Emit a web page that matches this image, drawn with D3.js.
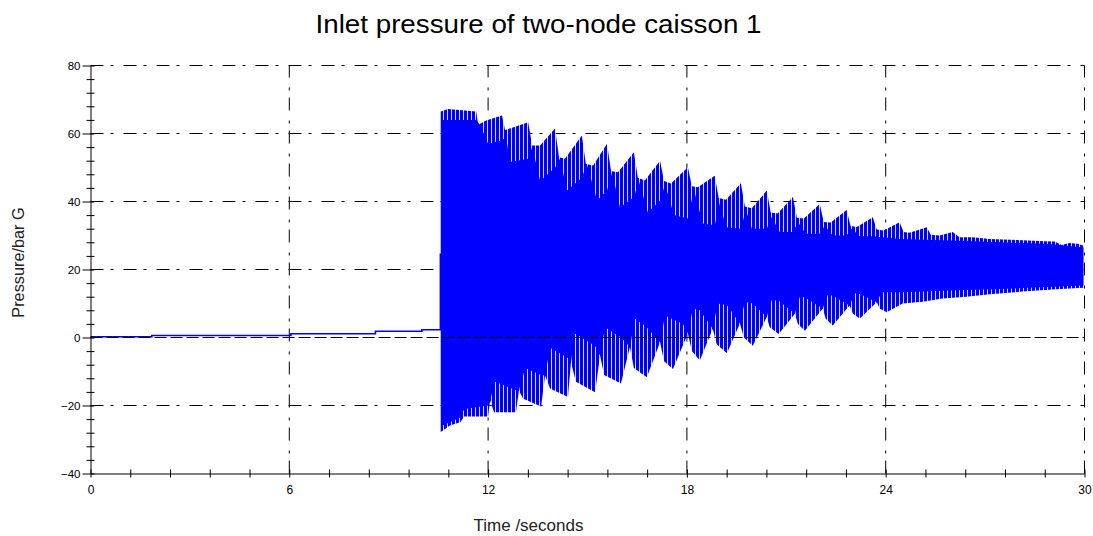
<!DOCTYPE html>
<html>
<head>
<meta charset="utf-8">
<script src="https://cdn.jsdelivr.net/npm/d3@7"></script>
<style>
  html, body { margin: 0; padding: 0; background: #fff; }
  svg { display: block; font-family: "Liberation Sans", Arial, sans-serif; }
</style>
</head>
<body>
<svg id="chart" width="1093" height="536"></svg>
<script>
// ---- labels and ticks ----
const chartTitle = "Inlet pressure of two-node caisson 1";
const xTitle = "Time /seconds";
const yTitle = "Pressure/bar G";
const xMajorTicks = [0, 6, 12, 18, 24, 30];
const yMajorTicks = [-40, -20, 0, 20, 40, 60, 80];
const xMinorTicks = [1.2, 2.4, 3.6, 4.8, 7.2, 8.4, 9.6, 10.8, 13.2, 14.4, 15.6, 16.8,
                     19.2, 20.4, 21.6, 22.8, 25.2, 26.4, 27.6, 28.8];
const yMinorTicks = [-36, -32, -28, -24, -16, -12, -8, -4, 4, 8, 12, 16,
                     24, 28, 32, 36, 44, 48, 52, 56, 64, 68, 72, 76];

// ---- pressure before the surge (time s, bar G) ----
const preSurge = [[0, 0.2], [1.85, 0.6], [6.05, 1.1], [8.6, 1.85], [10.0, 2.3], [10.56, 24.7]];

// ---- oscillation envelope after the surge (time s, bar G) ----
// peak tips reached by the individual cycles
const upperTips = [[10.57,66.5],[10.79,67.2],[11.64,66.5],[11.70,62.6],[11.94,63.8],[12.42,65.3],[12.51,61],[12.66,61.5],
  [13.21,63.3],[13.33,56.5],[13.57,56.5],[14.02,61.5],[14.14,53],[14.32,52.6],[14.83,59.4],[14.95,51],[15.17,50.6],
  [15.59,57],[15.71,49],[15.92,48.6],[16.40,54.5],[16.52,47],[16.73,46.2],[17.19,52],[17.31,46],[17.52,45.3],
  [18.03,50.1],[18.15,44.5],[18.33,44.2],[18.84,47.6],[18.96,41],[19.18,40.5],[19.63,45.4],[19.75,38.5],[19.96,38],
  [20.41,43.2],[20.53,36.8],[20.74,36.5],[21.20,41.3],[21.32,35.2],[21.53,35],[22.01,39.3],[22.13,34],[22.34,33.8],
  [22.82,37.5],[22.94,32.8],[23.13,32.5],[23.61,35.4],[23.73,31.8],[23.94,31.5],[24.42,33.9],[24.54,31],[24.72,30.8],
  [25.24,32.4],[25.36,30.2],[25.63,30],[26.02,31],[26.23,29.5],[26.62,29.5],[27.14,29],[28.13,28.6],[28.79,28.3],
  [29.10,28.2],[29.31,27.2],[29.55,27.8],[29.79,27.6],[29.97,27]];
const lowerTips = [[10.57,-27.8],[10.85,-25.9],[11.16,-24.9],[11.28,-23.2],[12.00,-23.2],[12.06,-18.5],[12.18,-22],
  [12.84,-22],[12.93,-15.6],[13.06,-18],[13.60,-20.3],[13.72,-11.2],[13.87,-15],[14.41,-17.5],[14.50,-7.3],[14.65,-13],
  [15.23,-16.1],[15.38,-5.3],[15.50,-11],[16.01,-13.5],[16.28,-2.8],[16.40,-9],[16.79,-11.7],[17.19,-1.4],[17.31,-7],
  [17.58,-9.3],[18.03,1.2],[18.15,-4],[18.39,-6.8],[18.78,2.6],[18.90,-2],[19.21,-4.6],[19.60,4.1],[19.72,0],
  [19.99,-2.4],[20.41,6],[20.50,3],[20.77,1],[21.26,7],[21.35,4],[21.56,2],[22.10,8.5],[22.19,5.5],[22.40,3.5],
  [22.91,9.4],[23.01,7],[23.22,5.6],[23.73,10.4],[23.82,8.5],[24.03,7.4],[24.51,10],[25.12,10.5],[25.72,11.5],
  [26.44,12],[27.14,12.7],[28.13,13.5],[29.16,14.2],[29.97,14.6]];
// band that every cycle crosses (drawn solid)
const upperCore = [[10.60,64],[11.64,64],[11.76,62.5],[12.00,57],[12.42,58],[12.54,59],[12.66,51.6],[13.21,52.6],
  [13.33,56],[13.57,46],[14.02,50],[14.17,52.6],[14.38,43.2],[14.83,47],[14.98,51],[15.29,40.3],[15.59,43.2],
  [15.74,48.5],[15.98,38.2],[16.40,41.3],[16.55,46],[16.82,36.8],[17.19,40.3],[17.34,45],[17.61,36],[18.03,35],
  [18.21,43.5],[18.48,33.5],[18.84,33],[18.99,39.5],[19.18,32.4],[19.63,32],[19.78,37.6],[19.96,32],[20.41,32],
  [20.56,35.4],[20.80,31],[21.20,31],[21.35,33.9],[21.59,30.5],[22.01,30.5],[22.16,32.9],[22.40,30],[22.82,30],
  [22.97,32],[23.22,29.8],[23.61,29.8],[24.42,29],[25.93,28.5],[27.44,28],[28.94,27.5],[29.97,26.5]];
const lowerCore = [[10.60,-26],[11.16,-23.5],[11.28,-21],[12.00,-20],[12.06,-18.5],[12.21,-13],[12.84,-15.5],
  [12.93,-15.6],[13.12,-9],[13.60,-11],[13.72,-11.2],[13.87,-3],[14.41,-6],[14.50,-7.3],[14.62,1.2],[15.23,-2.5],
  [15.38,-5.3],[15.53,3],[16.01,0],[16.28,-2.8],[16.43,5.5],[16.79,3],[17.19,-1.4],[17.34,6.5],[17.88,4],[18.03,1.2],
  [18.18,8.5],[18.39,8],[18.78,2.6],[18.93,10],[19.21,9.5],[19.60,4.1],[19.75,10.5],[19.99,10],[20.41,6],[20.56,11],
  [20.77,10.8],[21.26,7],[21.41,12],[21.56,11.8],[22.10,8.5],[22.25,12.5],[22.40,12.3],[22.91,9.4],[23.07,13],
  [23.22,12.8],[23.73,10.4],[23.88,13.3],[24.51,13.3],[25.93,13.8],[27.44,14.3],[29.97,15.3]];

// ---- drawing ----
const svg = d3.select("#chart");
const x = d3.scaleLinear().domain([0, 30]).range([90.5, 1084.5]);
const y = d3.scaleLinear().domain([-40, 80]).range([473.5, 65.5]);
const blue = "#0000ff";
const dashDot = "13,7,3,10";

// streak texture for the outer part of the oscillation band
const defs = svg.append("defs");
const pat = defs.append("pattern").attr("id", "cycles")
  .attr("patternUnits", "userSpaceOnUse").attr("width", 4).attr("height", 8);
pat.append("rect").attr("width", 4).attr("height", 8).attr("fill", blue);
pat.append("rect").attr("x", 3).attr("width", 1).attr("height", 8).attr("fill", "#dcdcff");

// grid (dash-dot) behind the data
const grid = svg.append("g").attr("stroke", "#000").attr("stroke-width", 1)
  .attr("stroke-dasharray", dashDot).attr("fill", "none");
grid.selectAll("line.h").data(yMajorTicks.filter(v => v !== 0 && v !== -40)).join("line")
  .attr("class", "h").attr("x1", x(0)).attr("x2", x(30)).attr("y1", d => y(d)).attr("y2", d => y(d));
grid.selectAll("line.v").data(xMajorTicks.filter(v => v !== 0)).join("line")
  .attr("class", "v").attr("x1", d => x(d)).attr("x2", d => x(d)).attr("y1", y(-40)).attr("y2", y(80));

// pressure before the surge
svg.append("path").datum(preSurge)
  .attr("fill", "none").attr("stroke", blue).attr("stroke-width", 1.6)
  .attr("d", d3.line().x(d => x(d[0])).y(d => y(d[1])).curve(d3.curveStepAfter));

// oscillation band: outer tips, then solid core
const poly = d3.line().x(d => x(d[0])).y(d => y(d[1]));
function closed(top, bottom) { return poly(top.concat(bottom.slice().reverse())) + "Z"; }
svg.append("path").attr("d", closed(upperTips, lowerTips)).attr("fill", "url(#cycles)");
svg.append("path").attr("d", closed(upperCore, lowerCore)).attr("fill", blue);

// zero reference line on top
svg.append("line").attr("x1", x(0)).attr("x2", x(30)).attr("y1", y(0)).attr("y2", y(0))
  .attr("stroke", "#000").attr("stroke-width", 1).attr("stroke-dasharray", "12,4");

// axes
const yAxis = svg.append("g").attr("transform", `translate(${x(0)},0)`)
  .call(d3.axisLeft(y).tickValues(yMajorTicks).tickSize(8).tickSizeOuter(0).tickPadding(2));
yAxis.selectAll(".tick line").attr("x1", 4);
const yMinor = svg.append("g").attr("transform", `translate(${x(0)},0)`)
  .call(d3.axisLeft(y).tickValues(yMinorTicks).tickSize(4).tickSizeOuter(0).tickFormat(""));
yMinor.selectAll(".tick line").attr("x1", 4);
yMinor.select(".domain").remove();

const xAxis = svg.append("g").attr("transform", `translate(0,${y(-40)})`)
  .call(d3.axisBottom(x).tickValues(xMajorTicks).tickSize(4).tickSizeOuter(0).tickPadding(8));
xAxis.selectAll(".tick line").attr("y1", -4);
const xMinor = svg.append("g").attr("transform", `translate(0,${y(-40)})`)
  .call(d3.axisBottom(x).tickValues(xMinorTicks).tickSize(4).tickSizeOuter(0).tickFormat(""));
xMinor.selectAll(".tick line").attr("y1", -4);
xMinor.select(".domain").remove();

svg.selectAll(".domain").attr("stroke", "#000");
svg.selectAll(".tick line").attr("stroke", "#000");
yAxis.selectAll(".tick text").attr("font-size", 11.5).attr("fill", "#000")
  .attr("font-family", "'Liberation Sans', Arial, sans-serif");
xAxis.selectAll(".tick text").attr("font-size", 12).attr("fill", "#000")
  .attr("font-family", "'Liberation Sans', Arial, sans-serif");

// titles
svg.append("text").attr("x", 538.5).attr("y", 32.5).attr("text-anchor", "middle")
  .attr("font-size", 26.5).attr("textLength", 446).attr("lengthAdjust", "spacingAndGlyphs")
  .attr("fill", "#000").text(chartTitle);
svg.append("text").attr("x", 528.5).attr("y", 530.5).attr("text-anchor", "middle")
  .attr("font-size", 17).attr("fill", "#222").text(xTitle);
svg.append("text").attr("transform", "translate(24,262.5) rotate(-90)").attr("text-anchor", "middle")
  .attr("font-size", 16.3).attr("fill", "#222").text(yTitle);
</script>
</body>
</html>
